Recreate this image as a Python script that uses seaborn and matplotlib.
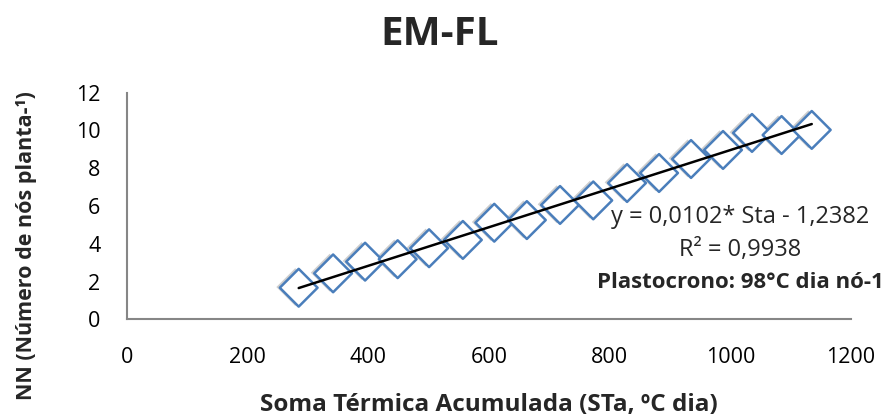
import numpy as np
import pandas as pd
import matplotlib
matplotlib.use("Agg")
import matplotlib.pyplot as plt
import matplotlib.patheffects as pe
import seaborn as sns

# soma térmica acumulada (STa, ºC dia) e número de nós por planta
sta = [285, 342, 395, 449, 501, 557, 609, 663, 718, 773, 829, 882, 935, 988, 1036, 1085, 1135]
nn = [1.68, 2.44, 3.06, 3.19, 3.77, 4.21, 5.12, 5.26, 6.06, 6.30, 7.22, 7.75, 8.49, 8.97, 9.87, 9.76, 10.03]

x_ticks = [0, 200, 400, 600, 800, 1000, 1200]
y_ticks = [0, 2, 4, 6, 8, 10, 12]

eq_text = "y = 0,0102* Sta - 1,2382"
r2_text = "R² = 0,9938"
plasto_text = "Plastocrono: 98°C dia nó-1"

df = pd.DataFrame({"STa": sta, "NN": nn})

sns.set_theme(style="white")
plt.rcParams["font.family"] = ["Open Sans", "DejaVu Sans"]

fig = plt.figure(figsize=(8.87, 4.16), dpi=100)
ax = fig.add_axes([0.1428, 0.232, 0.8166, 0.5452])

blue = "#4A7EBB"
sns.scatterplot(
    data=df, x="STa", y="NN", marker="D", s=370,
    facecolor="white", edgecolor=blue, linewidth=1.8, ax=ax, zorder=2
)
ax.collections[-1].set_path_effects([
    pe.SimplePatchShadow(offset=(-2.5, 0.5), shadow_rgbFace="0.45", alpha=0.35),
    pe.Normal(),
])

sns.regplot(
    data=df, x="STa", y="NN", scatter=False, ci=None, truncate=True,
    line_kws={"color": "black", "linewidth": 1.8, "zorder": 3}, ax=ax
)

ax.set_xlim(0, 1200)
ax.set_ylim(0, 12)
ax.set_xticks(x_ticks)
ax.set_yticks(y_ticks)
ax.tick_params(axis="both", length=0, labelsize=15.5, colors="black")
ax.tick_params(axis="x", pad=20)
ax.tick_params(axis="y", pad=19)

for side in ["top", "right"]:
    ax.spines[side].set_visible(False)
for side in ["left", "bottom"]:
    ax.spines[side].set_color("#868686")
    ax.spines[side].set_linewidth(1.5)
ax.grid(False)

ax.set_xlabel("Soma Térmica Acumulada (STa, ºC dia)", fontsize=17.5, fontweight="bold")
ax.xaxis.label.set_va("baseline")
ax.xaxis.set_label_coords(0.5, -0.405)
ax.set_ylabel("NN (Número de nós planta-¹)", fontsize=15.5, fontweight="bold")
ax.yaxis.label.set_va("center")
ax.yaxis.set_label_coords(-0.138, 0.324)

fig.text(440 / 887, 1 - 45 / 416, "EM-FL", ha="center", va="baseline",
         fontsize=29, fontweight="bold")

ax.text(1016, 5.1, eq_text, ha="center", va="baseline", fontsize=17)
ax.text(1016, 3.36, r2_text, ha="center", va="baseline", fontsize=17)
ax.text(1016, 1.67, plasto_text, ha="center", va="baseline", fontsize=16, fontweight="bold")

fig.savefig("out.png", dpi=100)
